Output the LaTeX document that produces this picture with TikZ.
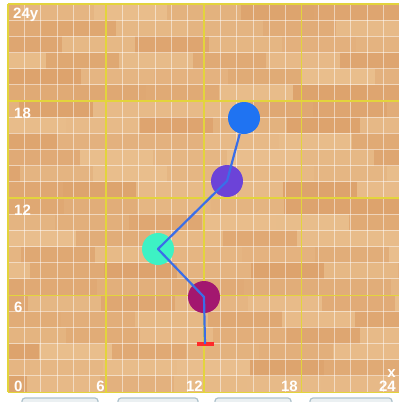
\documentclass[tikz,border=0pt]{standalone}
\usepackage{fontspec}
\setmainfont{Liberation Sans}
\definecolor{wl}{HTML}{EBC392}
\definecolor{wd}{HTML}{D99A63}
\definecolor{gridy}{HTML}{E3D43C}
\definecolor{cblue}{HTML}{1F73F2}
\definecolor{cpurple}{HTML}{6C43D8}
\definecolor{ccyan}{HTML}{3DF2C4}
\definecolor{cmag}{HTML}{A3176F}
\definecolor{lineblue}{HTML}{3A6EE8}
\definecolor{tick}{HTML}{FF2A2A}
\definecolor{pill}{HTML}{AFC3CD}
\begin{document}
\begin{tikzpicture}[x=1pt,y=-1pt,
  gridw/.style={white,opacity=0.5,line width=0.9pt},
  gridyel/.style={gridy,line width=1.1pt},
  ball/.style={circle,minimum size=32pt,inner sep=0pt},
  lbl/.style={text=white,font=\bfseries\fontsize{15}{15}\selectfont,inner sep=0pt},
  path/.style={lineblue,line width=2.2pt,line join=round}]
\useasboundingbox (0,0) rectangle (399,402);
\clip (0,0) rectangle (399,402);
\fill[white] (0,0) rectangle (399,402);
\draw[gray!40,line width=0.6pt] (5,4) -- (5,392);
% wood planks
\pgfmathsetseed{17}
\foreach \r in {0,...,23} {
  \pgfmathsetmacro\off{-rnd*4.5}
  \pgfmathsetmacro\ya{4+16.17*\r}
  \pgfmathsetmacro\yb{4+16.17*(\r+1)}
  \foreach \k in {0,...,6} {
    \pgfmathtruncatemacro\p{20+rnd*70}
    \pgfmathsetmacro\xa{8+16.33*(\off+\k*4.5)}
    \pgfmathsetmacro\xb{8+16.33*(\off+(\k+1)*4.5)}
    \fill[wl!\p!wd] (\xa,\ya) rectangle (\xb,\yb);
  }
}
\fill[white] (0,0) rectangle (8,402);
\fill[white] (0,0) rectangle (399,4);
\fill[white] (0,392) rectangle (399,402);
% grid
\foreach \i in {0,...,24} \draw[gridw] ({8+16.33*\i},4) -- ({8+16.33*\i},392);
\foreach \j in {0,...,24} \draw[gridw] (8,{4+16.17*\j}) -- (402,{4+16.17*\j});
\foreach \i in {0,6,12,18,24} \draw[gridyel] ({8+16.33*\i},4) -- ({8+16.33*\i},392);
\foreach \j in {0,6,12,18,24} \draw[gridyel] (8,{4+16.17*\j}) -- (402,{4+16.17*\j});
% bottom buttons
\foreach \a/\b in {22/98,118/198,215/291,310/392}
  \draw[pill,fill=pill!25,line width=1.2pt,rounded corners=3pt] (\a,398) rectangle (\b,410);
% labels
\node[lbl,anchor=base west] (ly24) at (13,18) {24y};
\node[lbl,anchor=base west] (ly18) at (14,118) {18};
\node[lbl,anchor=base west] (ly12) at (14,215) {12};
\node[lbl,anchor=base west] (ly6) at (14,312) {6};
\node[lbl,anchor=base west] (lx0) at (14,391) {0};
\node[lbl,anchor=base east] (lx6) at (105,391) {6};
\node[lbl,anchor=base east] (lx12) at (203,391) {12};
\node[lbl,anchor=base east] (lx18) at (298,391) {18};
\node[lbl,anchor=base east] (lx24) at (396,391) {24};
\node[lbl,anchor=base east] (lxx) at (396,377) {x};
% balls
\node[ball,fill=cmag] (mag) at (204,297) {};
\node[ball,fill=ccyan] (cyan) at (158,249) {};
\node[ball,fill=cpurple] (pur) at (227,181) {};
\node[ball,fill=cblue] (blue) at (244,118) {};
\node[fill=tick,minimum width=17pt,minimum height=3.2pt,inner sep=0pt] (base) at (205,344) {};
\draw[path] (base.center) -- (mag.center) -- (cyan.center) -- (pur.center) -- (blue);
\end{tikzpicture}
\end{document}
